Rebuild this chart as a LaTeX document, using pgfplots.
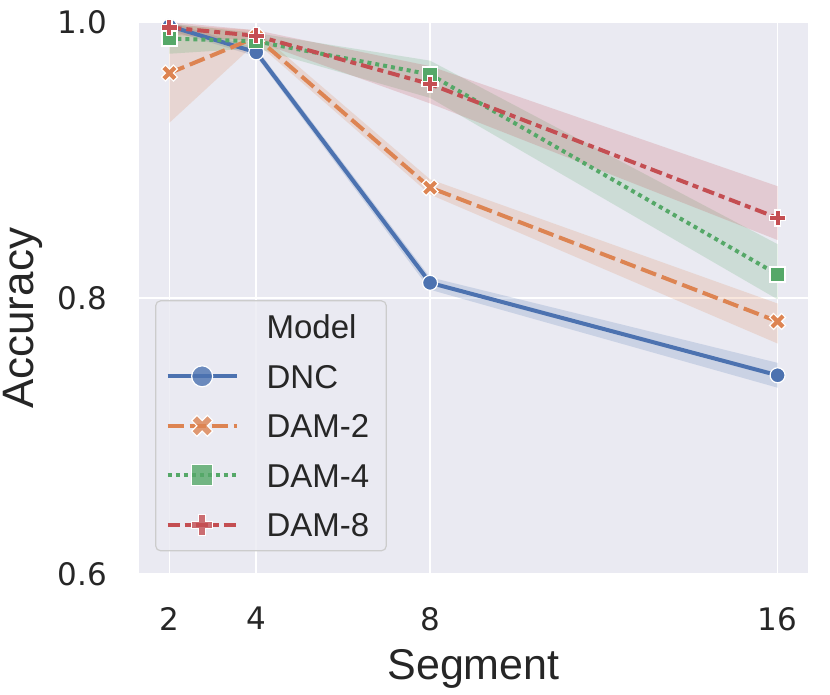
\documentclass[border=0pt]{standalone}
\usepackage{fontspec}
\setmainfont{Liberation Sans}
\newfontfamily\tickfont{DejaVu Sans}
\usepackage{pgfplots}
\pgfplotsset{compat=1.18}
\definecolor{sbblue}{HTML}{4C72B0}
\definecolor{sborange}{HTML}{DD8452}
\definecolor{sbgreen}{HTML}{55A868}
\definecolor{sbred}{HTML}{C44E52}
\definecolor{sbbg}{HTML}{EAEAF2}
\definecolor{sbtext}{HTML}{262626}

\pgfdeclareplotmark{Xfill}{%
  \pgfpathmoveto{\pgfqpoint{-0.5\pgfplotmarksize}{-1\pgfplotmarksize}}%
  \pgfpathlineto{\pgfqpoint{0pt}{-0.5\pgfplotmarksize}}%
  \pgfpathlineto{\pgfqpoint{0.5\pgfplotmarksize}{-1\pgfplotmarksize}}%
  \pgfpathlineto{\pgfqpoint{1\pgfplotmarksize}{-0.5\pgfplotmarksize}}%
  \pgfpathlineto{\pgfqpoint{0.5\pgfplotmarksize}{0pt}}%
  \pgfpathlineto{\pgfqpoint{1\pgfplotmarksize}{0.5\pgfplotmarksize}}%
  \pgfpathlineto{\pgfqpoint{0.5\pgfplotmarksize}{1\pgfplotmarksize}}%
  \pgfpathlineto{\pgfqpoint{0pt}{0.5\pgfplotmarksize}}%
  \pgfpathlineto{\pgfqpoint{-0.5\pgfplotmarksize}{1\pgfplotmarksize}}%
  \pgfpathlineto{\pgfqpoint{-1\pgfplotmarksize}{0.5\pgfplotmarksize}}%
  \pgfpathlineto{\pgfqpoint{-0.5\pgfplotmarksize}{0pt}}%
  \pgfpathlineto{\pgfqpoint{-1\pgfplotmarksize}{-0.5\pgfplotmarksize}}%
  \pgfpathclose
  \pgfusepathqfillstroke
}
\pgfdeclareplotmark{Pfill}{%
  \pgfpathmoveto{\pgfqpoint{-0.3333\pgfplotmarksize}{-1\pgfplotmarksize}}%
  \pgfpathlineto{\pgfqpoint{0.3333\pgfplotmarksize}{-1\pgfplotmarksize}}%
  \pgfpathlineto{\pgfqpoint{0.3333\pgfplotmarksize}{-0.3333\pgfplotmarksize}}%
  \pgfpathlineto{\pgfqpoint{1\pgfplotmarksize}{-0.3333\pgfplotmarksize}}%
  \pgfpathlineto{\pgfqpoint{1\pgfplotmarksize}{0.3333\pgfplotmarksize}}%
  \pgfpathlineto{\pgfqpoint{0.3333\pgfplotmarksize}{0.3333\pgfplotmarksize}}%
  \pgfpathlineto{\pgfqpoint{0.3333\pgfplotmarksize}{1\pgfplotmarksize}}%
  \pgfpathlineto{\pgfqpoint{-0.3333\pgfplotmarksize}{1\pgfplotmarksize}}%
  \pgfpathlineto{\pgfqpoint{-0.3333\pgfplotmarksize}{0.3333\pgfplotmarksize}}%
  \pgfpathlineto{\pgfqpoint{-1\pgfplotmarksize}{0.3333\pgfplotmarksize}}%
  \pgfpathlineto{\pgfqpoint{-1\pgfplotmarksize}{-0.3333\pgfplotmarksize}}%
  \pgfpathlineto{\pgfqpoint{-0.3333\pgfplotmarksize}{-0.3333\pgfplotmarksize}}%
  \pgfpathclose
  \pgfusepathqfillstroke
}

\begin{document}
\begin{tikzpicture}
\begin{axis}[
  scale only axis, width=669pt, height=552pt,
  xmin=1.3, xmax=16.7, ymin=0.6, ymax=1.0,
  xtick={2,4,8,16}, xticklabels={2,4,8,16},
  ytick={0.6,0.8,1.0}, yticklabels={0.6,0.8,1.0},
  axis background/.style={fill=sbbg},
  axis line style={draw=none}, major tick length=0pt,
  grid=major, grid style={white, line width=1.8pt},
  tick label style={font=\tickfont\fontsize{31}{36}\selectfont, text=sbtext},
  xticklabel style={anchor=north, inner sep=0pt, yshift=-33pt},
  yticklabel style={anchor=east, inner sep=0pt, xshift=-32pt},
  xlabel={Segment}, ylabel={Accuracy},
  xlabel style={font=\fontsize{43}{48}\selectfont, text=sbtext, inner sep=0pt, at={(axis description cs:0.5,-0.192)}, anchor=base},
  ylabel style={font=\fontsize{44}{50}\selectfont, text=sbtext, inner sep=0pt, at={(axis description cs:-0.174,0.463)}, anchor=center},
  legend style={at={(axis description cs:0.024,0.496)}, anchor=north west,
    font=\fontsize{33}{40}\selectfont, text=sbtext, draw=black!20, line width=1.2pt,
    rounded corners=5pt, fill=sbbg, fill opacity=0.8, text opacity=1, draw opacity=1,
    inner xsep=10pt, inner ysep=14pt, row sep=25.5pt, column sep=28pt,
    nodes={inner sep=0pt, text height=24pt, text depth=0pt}},
  legend cell align=left,
  legend image code/.code={\draw[mark repeat=2,mark phase=2,mark size=10.5pt] plot coordinates {(0pt,0pt)(34.5pt,0pt)(69pt,0pt)};},
]
% confidence bands
\addplot[forget plot, draw=none, fill=sbblue, fill opacity=0.2] coordinates {(2,0.994)(4,0.975)(8,0.806)(16,0.735)(16,0.753)(8,0.815)(4,0.981)(2,1.0)};
\addplot[forget plot, draw=none, fill=sborange, fill opacity=0.2] coordinates {(2,0.927)(4,0.985)(8,0.875)(16,0.767)(16,0.796)(8,0.886)(4,0.994)(2,0.998)};
\addplot[forget plot, draw=none, fill=sbgreen, fill opacity=0.2] coordinates {(2,0.977)(4,0.981)(8,0.945)(16,0.799)(16,0.839)(8,0.972)(4,0.992)(2,0.999)};
\addplot[forget plot, draw=none, fill=sbred, fill opacity=0.2] coordinates {(2,0.991)(4,0.986)(8,0.941)(16,0.842)(16,0.881)(8,0.968)(4,0.994)(2,1.0)};

\addlegendimage{empty legend}
\addlegendentry{Model}
\addplot[sbblue, line width=4pt, mark=*, mark size=7.5pt, mark options={solid, fill=sbblue, draw=white, line width=1.2pt}]
  coordinates {(2,0.997)(4,0.978)(8,0.811)(16,0.744)};
\addlegendentry{DNC}
\addplot[sborange, line width=4pt, dash pattern=on 16pt off 6pt, mark=Xfill, mark size=8pt, mark options={solid, fill=sborange, draw=white, line width=1.2pt}]
  coordinates {(2,0.963)(4,0.989)(8,0.880)(16,0.783)};
\addlegendentry{DAM-2\hspace*{7pt}}
\addplot[sbgreen, line width=4pt, dash pattern=on 4pt off 4pt, mark=square*, mark size=7.5pt, mark options={solid, fill=sbgreen, draw=white, line width=1.2pt}]
  coordinates {(2,0.988)(4,0.986)(8,0.962)(16,0.817)};
\addlegendentry{DAM-4}
\addplot[sbred, line width=4pt, dash pattern=on 12pt off 5pt on 6pt off 5pt, mark=Pfill, mark size=8pt, mark options={solid, fill=sbred, draw=white, line width=1.2pt}]
  coordinates {(2,0.996)(4,0.990)(8,0.955)(16,0.858)};
\addlegendentry{DAM-8}
\end{axis}
\pgfresetboundingbox
\path ([shift={(-139pt,-121pt)}]current axis.south west) rectangle ([shift={(22pt,22pt)}]current axis.north east);
\end{tikzpicture}
\end{document}
